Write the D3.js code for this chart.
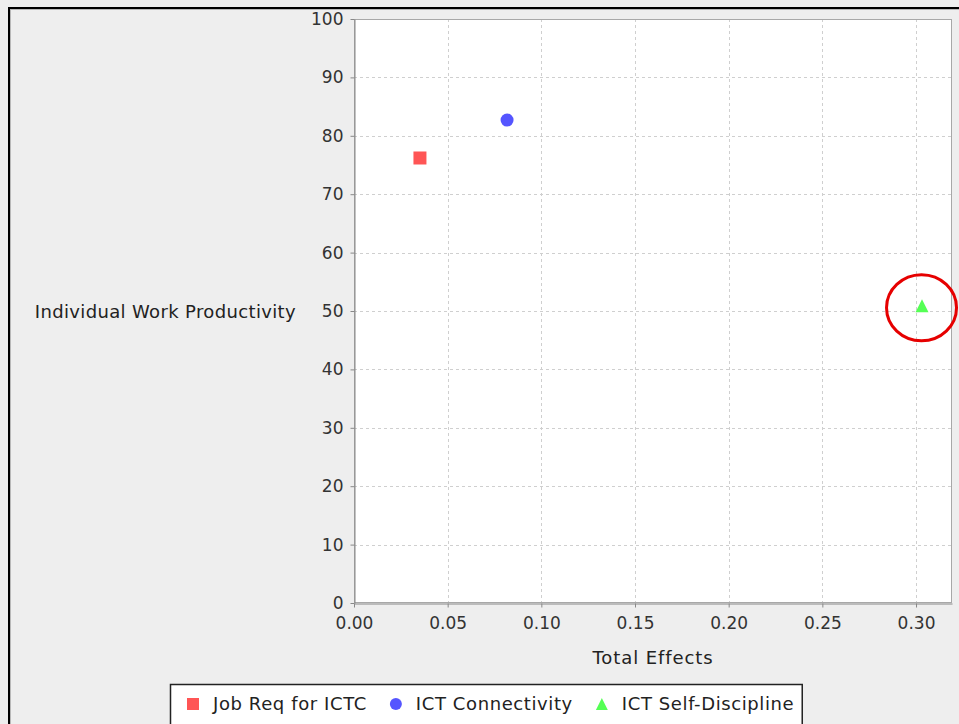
<!DOCTYPE html>
<html>
<head>
<meta charset="utf-8">
<script src="https://cdn.jsdelivr.net/npm/d3@7"></script>
<style>
  html, body { margin: 0; padding: 0; background: #eeeeee; overflow: hidden; }
  svg { display: block; }
  text { font-family: "DejaVu Sans", sans-serif; }
</style>
</head>
<body>
<svg id="chart" width="959" height="724"></svg>
<script>
// ---- data ----
const seriesNames = ["Job Req for ICTC", "ICT Connectivity", "ICT Self-Discipline"];
const seriesShapes = ["square", "circle", "triangle"];
const seriesColors = ["#ff5555", "#5555ff", "#55ff55"];
const xValues = [0.0352, 0.0817, 0.3032];
const yValues = [76.2, 82.7, 50.9];
const xTicks = [0.00, 0.05, 0.10, 0.15, 0.20, 0.25, 0.30];
const yTicks = [0, 10, 20, 30, 40, 50, 60, 70, 80, 90, 100];
const xTitle = "Total Effects";
const yTitle = "Individual Work Productivity";
const highlightIndex = 2;

// ---- layout ----
const W = 959, H = 724;
const plot = { left: 354, right: 952, top: 19, bottom: 603 };

const svg = d3.select("#chart");

// chart background and frame
svg.append("rect").attr("x", 0).attr("y", 0).attr("width", W).attr("height", H).attr("fill", "#eeeeee");
svg.append("rect").attr("x", 9).attr("y", 8).attr("width", W + 20).attr("height", H + 20)
  .attr("fill", "none").attr("stroke", "#000").attr("stroke-width", 2);
svg.append("rect").attr("x", 10.5).attr("y", 9.5).attr("width", W + 20).attr("height", H + 20)
  .attr("fill", "none").attr("stroke", "#b8b8b8").attr("stroke-width", 1);

const x = d3.scaleLinear().domain([0, 0.3192]).range([plot.left, plot.right]);
const y = d3.scaleLinear().domain([0, 100]).range([plot.bottom, plot.top]);

// plot background
svg.append("rect").attr("x", plot.left).attr("y", plot.top)
  .attr("width", plot.right - plot.left).attr("height", plot.bottom - plot.top)
  .attr("fill", "#ffffff");

// gridlines
const grid = svg.append("g").attr("stroke", "#cfcfcf").attr("stroke-width", 1).attr("stroke-dasharray", "3,3");
grid.selectAll("line.v").data(xTicks.filter(d => d > 0)).join("line")
  .attr("x1", d => Math.round(x(d)) + 0.5).attr("x2", d => Math.round(x(d)) + 0.5)
  .attr("y1", plot.top).attr("y2", plot.bottom);
grid.selectAll("line.h").data(yTicks.filter(d => d > 0)).join("line")
  .attr("y1", d => Math.round(y(d)) + 0.5).attr("y2", d => Math.round(y(d)) + 0.5)
  .attr("x1", plot.left).attr("x2", plot.right);

// plot outline
svg.append("rect").attr("x", plot.left + 0.5).attr("y", plot.top + 0.5)
  .attr("width", plot.right - plot.left - 1).attr("height", plot.bottom - plot.top - 1)
  .attr("fill", "none").attr("stroke", "#a8a8a8");

// axes
const xAxis = d3.axisBottom(x).tickValues(xTicks).tickFormat(d3.format(".2f")).tickSizeInner(4).tickSizeOuter(0).tickPadding(9);
const yAxis = d3.axisLeft(y).tickValues(yTicks).tickFormat(d3.format("d")).tickSizeInner(4).tickSizeOuter(0).tickPadding(7);

const gx = svg.append("g").attr("transform", `translate(0,${plot.bottom + 0.5})`).call(xAxis);
const gy = svg.append("g").attr("transform", `translate(${plot.left + 0.5},0)`).call(yAxis);
[gx, gy].forEach(g => {
  g.select(".domain").attr("stroke", "#888888");
  g.selectAll(".tick line").attr("stroke", "#888888");
  g.selectAll(".tick text").attr("fill", "#333").style("font-size", "17px").style("font-family", "'DejaVu Sans', sans-serif");
});
gx.selectAll(".tick text").attr("dy", "0.72em");

// axis titles
svg.append("text").attr("x", (plot.left + plot.right) / 2).attr("y", 664)
  .attr("text-anchor", "middle").attr("fill", "#222").style("font-size", "18px")
  .style("letter-spacing", "0.9px").text(xTitle);
svg.append("text").attr("x", 296).attr("y", (plot.top + plot.bottom) / 2 + 7)
  .attr("text-anchor", "end").attr("fill", "#222").style("font-size", "18px")
  .style("letter-spacing", "0.35px").text(yTitle);

// shapes
function shapePath(shape, s) {
  if (shape === "square") return `M${-s},${-s}H${s}V${s}H${-s}Z`;
  if (shape === "triangle") return `M0,${-s}L${s},${s}L${-s},${s}Z`;
  return `M${s},0A${s},${s} 0 1,1 ${-s},0A${s},${s} 0 1,1 ${s},0Z`;
}

const pts = seriesNames.map((n, i) => ({ name: n, shape: seriesShapes[i], color: seriesColors[i], xv: xValues[i], yv: yValues[i] }));
svg.append("g").selectAll("path").data(pts).join("path")
  .attr("transform", d => `translate(${x(d.xv)},${y(d.yv)})`)
  .attr("d", d => shapePath(d.shape, 6.5))
  .attr("fill", d => d.color);

// highlight ellipse
const hp = pts[highlightIndex];
svg.append("ellipse").attr("cx", x(hp.xv) - 0.5).attr("cy", y(hp.yv) + 2)
  .attr("rx", 35).attr("ry", 33).attr("fill", "none").attr("stroke", "#e60000").attr("stroke-width", 3);

// legend
const legend = svg.append("g");
const legBox = legend.append("rect").attr("x", 170.5).attr("y", 684.5).attr("height", 60)
  .attr("fill", "#ffffff").attr("stroke", "#222").attr("stroke-width", 1.5);
let lx = 185;
pts.forEach((d, i) => {
  legend.append("path").attr("transform", `translate(${lx + 8},704)`).attr("d", shapePath(d.shape, 6)).attr("fill", d.color);
  const t = legend.append("text").attr("x", lx + 28).attr("y", 710).attr("fill", "#222")
    .style("font-size", "18px").style("letter-spacing", "0.6px").text(d.name);
  const w = t.node().getComputedTextLength();
  lx = lx + 28 + w + 21;
});
legBox.attr("width", lx - 21 + 8 - 170.5);
</script>
</body>
</html>
